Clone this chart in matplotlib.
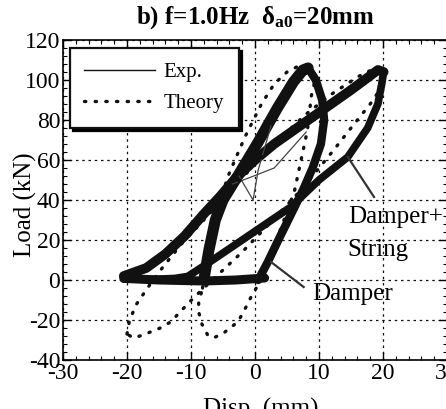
"""Hysteresis loops, damper vs damper+string, f=1.0Hz, delta_a0=20mm."""

import matplotlib

matplotlib.use("Agg")
import matplotlib.pyplot as plt

# --- Exp. bands, x = Disp (mm), y = Load (kN) ---
# Damper+String loop: lower (loading) branch and upper (unloading) branch
ds_low_x = [-20.5, -16, -12.5, -10.5, -8, -5, -2, 2, 5.6, 10, 14.5, 17.6, 19.2, 19.8, 20.1]
ds_low_y = [0.5, 0.3, 0.8, 1.8, 7, 13.5, 20, 28.7, 36.5, 50, 61.5, 76, 88, 98, 104]
ds_up_x = [20.1, 19.2, 15, 11, 7, 3, 0, -3, -5.4, -8, -11, -14, -17, -20.5]
ds_up_y = [104, 105, 95, 86, 77, 68, 60, 51, 42, 33, 22, 13, 6, 2]

# Damper loop: steep rise, peak near +8 mm, steep drop back to zero
dp_rise_x = [-8, -7.2, -6.2, -5, -2.5, 0.5, 3.5, 6, 7.5, 8.3]
dp_rise_y = [0, 15, 30, 40, 53, 69, 86, 99, 105, 106]
dp_fall_x = [8.3, 9.5, 10.5, 10.8, 10.3, 9, 7.5, 5.5, 3.5, 2, 0.5]
dp_fall_y = [106, 100, 90, 80, 68, 56, 45, 32, 19, 9, 0]
bottom_x = [-20.5, -15, -8, -3, 1.5]
bottom_y = [0.8, 0, -0.5, 0, 1]

# first-cycle transients (thin)
thin_a_x = [-2.5, -0.3, 0.5, 2.5]
thin_a_y = [52, 40, 55, 77]
thin_b_x = [-3.5, -1, 3, 8]
thin_b_y = [48, 51, 56, 74]

# --- Theory (dotted) ---
th_ds_x = [-20, -19.6, -18.5, -16.8, -14.5, -11.5, -8, -4, 0, 4, 8, 12, 16, 18.5, 19.8,
           20, 19.7, 18, 15, 12.3, 9.5, 6.6, 4, 1, -2, -5, -8, -10.4, -11.7, -13.2,
           -14.8, -17.5, -19, -20]
th_ds_y = [-27, -20, -12, -4, 6, 18, 30, 44, 58, 71, 83, 93, 101.5, 105.5, 106.5,
           103, 96, 88, 76, 65, 54, 43, 34, 24, 14, 5, -4, -11.5, -16, -21,
           -24, -27.5, -29, -27]
th_dp_x = [-8.2, -7.8, -7.3, -6.5, -5.4, -4.2, -3, -1.5, 1, 3, 5, 6.5, 8.5, 9.4,
           8.8, 8.2, 7.2, 6.2, 5, 3.6, 2.2, 1, 0.2, -0.7, -1.8, -2.7, -4.9, -6.5,
           -7.4, -8.3, -8.8, -8.8, -8.2]
th_dp_y = [-4, 5, 20, 30, 40, 52, 61, 72, 88, 98, 104, 106.5, 106, 100,
           92, 75, 60, 45, 34, 22, 11, 2, -4, -9, -16, -21, -26.5, -29,
           -27.5, -22, -16, -11.5, -4]

# callouts: text + baseline position, and the leader line to the curve
labels = [("Damper+", 14.5, 28.5), ("String", 14.5, 12.0), ("Damper", 9.0, -10.0)]
leaders = [[(18.6, 41.5), (14.5, 61.5)], [(7.6, -3.5), (2.5, 9)]]

x_ticks = [-30, -20, -10, 0, 10, 20, 30]
y_ticks = [-40, -20, 0, 20, 40, 60, 80, 100, 120]

plt.rcParams["font.family"] = ["Liberation Serif", "DejaVu Serif"]
plt.rcParams["axes.unicode_minus"] = False
plt.rcParams["mathtext.fontset"] = "custom"
plt.rcParams["mathtext.rm"] = "Liberation Serif:bold"
plt.rcParams["mathtext.it"] = "Liberation Serif:bold"
plt.rcParams["mathtext.bf"] = "Liberation Serif:bold"

ink = "#111111"
fig = plt.figure(figsize=(4.46, 4.09), dpi=100)
ax = fig.add_axes([63 / 446, 49 / 409, 384 / 446, 320 / 409])

# exp bands
ax.plot(bottom_x, bottom_y, color=ink, lw=6.5, solid_capstyle="round", zorder=3)
ax.plot(ds_low_x, ds_low_y, color=ink, lw=5.5, solid_capstyle="round", zorder=3)
ax.plot(ds_up_x, ds_up_y, color=ink, lw=7, solid_capstyle="round", zorder=3)
ax.plot(dp_rise_x, dp_rise_y, color=ink, lw=8, solid_capstyle="round", zorder=3)
ax.plot(dp_fall_x, dp_fall_y, color=ink, lw=6, solid_capstyle="round", zorder=3)
ax.plot(thin_a_x, thin_a_y, color="#444444", lw=0.9, zorder=3)
ax.plot(thin_b_x, thin_b_y, color="#444444", lw=0.9, zorder=3)
# legend proxy for Exp.
ax.plot([], [], color=ink, lw=1.0, label="Exp.")

# theory
dots = dict(color=ink, lw=2.4, linestyle=(0, (0.4, 2.8)), dash_capstyle="round", zorder=4)
ax.plot(th_ds_x, th_ds_y, label="Theory", **dots)
ax.plot(th_dp_x, th_dp_y, **dots)

ax.set_xlim(-30, 30)
ax.set_ylim(-40, 120)
ax.set_xticks(x_ticks)
ax.set_yticks(y_ticks)
ax.set_xticks(range(-30, 31, 2), minor=True)
ax.set_yticks(range(-40, 121, 4), minor=True)
ax.tick_params(which="both", direction="in", top=True, right=True, labelsize=17, pad=2)
ax.tick_params(which="major", length=6, width=1)
ax.tick_params(which="minor", length=3, width=0.8)
for s in ax.spines.values():
    s.set_linewidth(1.2)
ax.grid(True, which="major", color=ink, lw=0.9, linestyle=(0, (2, 3)))
ax.set_axisbelow(True)

# callouts
for txt, tx, ty in labels:
    ax.text(tx, ty, txt, fontsize=18, va="baseline", ha="left", zorder=5)
for seg in leaders:
    ax.plot([p[0] for p in seg], [p[1] for p in seg], color="#333333", lw=1.6, zorder=5)

leg = ax.legend(loc="upper left", bbox_to_anchor=(0.018, 0.975), borderaxespad=0,
                fontsize=15, handlelength=3.4, labelspacing=0.55, borderpad=0.7,
                handletextpad=0.4, fancybox=False, framealpha=1,
                edgecolor=ink, shadow={"color": "black", "alpha": 1})
leg.get_frame().set_linewidth(1.6)

fig.text(0.572, 0.956, r"b) f=1.0Hz  $\delta_{\mathrm{a0}}$=20mm", ha="center",
         va="center", fontsize=18, fontweight="bold")
fig.text(0.056, 0.50, "Load (kN)", rotation=90, ha="center", va="center", fontsize=18)
fig.text(0.585, 0.027, "Disp. (mm)", ha="center", va="top", fontsize=18)

fig.savefig("out.png", dpi=100)
